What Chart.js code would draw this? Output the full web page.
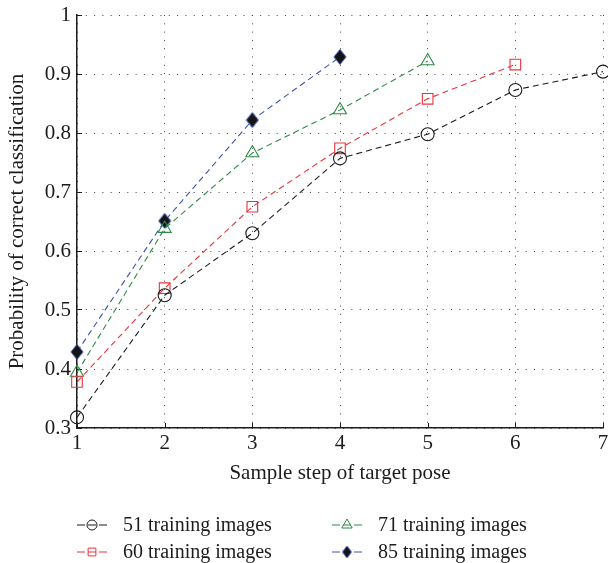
<!DOCTYPE html>
<html>
<head>
<meta charset="utf-8">
<script src="https://cdn.jsdelivr.net/npm/chart.js@4"></script>
<style>
  html, body { margin: 0; padding: 0; background: #fff; }
  #wrap { width: 608px; height: 563px; }
</style>
</head>
<body>
<div id="wrap"><canvas id="chart" width="608" height="563"></canvas></div>
<script>
// values
const steps = ['1', '2', '3', '4', '5', '6', '7'];
const train51 = [0.318, 0.525, 0.630, 0.757, 0.798, 0.873, 0.904];
const train60 = [0.378, 0.537, 0.675, 0.774, 0.858, 0.916];
const train71 = [0.394, 0.638, 0.766, 0.839, 0.922];
const train85 = [0.429, 0.651, 0.822, 0.929];
const seriesNames = ['51 training images', '60 training images', '71 training images', '85 training images'];

const FONT = "'Liberation Serif', 'Times New Roman', serif";
const INK = '#1c1c1c';
const BLUE = '#3b52b2';

// filled diamond with blue edge, like the matlab marker
function makeDiamond(w, h) {
    const c = document.createElement('canvas');
    c.width = w + 2;
    c.height = h + 2;
    const g = c.getContext('2d');
    g.beginPath();
    g.moveTo(c.width / 2, 1);
    g.lineTo(c.width - 1, c.height / 2);
    g.lineTo(c.width / 2, c.height - 1);
    g.lineTo(1, c.height / 2);
    g.closePath();
    g.fillStyle = '#141414';
    g.fill();
    g.strokeStyle = BLUE;
    g.lineWidth = 1;
    g.stroke();
    return c;
}
const diamondBig = makeDiamond(12, 15);
const diamondSmall = makeDiamond(9, 12);

const seriesStyle = (color, pointStyle, radius) => ({
    borderColor: color,
    backgroundColor: 'rgba(0,0,0,0)',
    pointBorderColor: color,
    pointBackgroundColor: 'rgba(0,0,0,0)',
    borderWidth: 1.1,
    borderDash: [6, 4],
    pointStyle: pointStyle,
    pointRadius: radius,
    pointHoverRadius: radius,
    pointBorderWidth: 1.1,
    tension: 0,
    fill: false,
    clip: false,
});

const datasets = [
    { label: seriesNames[0], data: train51, ...seriesStyle('#1b1b1b', 'circle', 6.5), legendSlot: [0, 0], legendStyle: 'circle', legendR: 5 },
    { label: seriesNames[1], data: train60, ...seriesStyle('#e8353b', 'rect', 7.5), legendSlot: [0, 1], legendStyle: 'rect', legendR: 5.5 },
    { label: seriesNames[2], data: train71, ...seriesStyle('#2b8a45', 'triangle', 7.5), legendSlot: [1, 0], legendStyle: 'triangle', legendR: 6 },
    { label: seriesNames[3], data: train85, ...seriesStyle(BLUE, diamondBig, 7), legendSlot: [1, 1], legendStyle: diamondSmall, legendR: 6 },
];

// two-column legend under the axis title
const legendPlugin = {
    id: 'twoColLegend',
    afterDraw(chart) {
        const ctx = chart.ctx;
        const colX = [77, 332];
        const rowY = [525, 552];
        ctx.save();
        chart.data.datasets.forEach((ds) => {
            const x0 = colX[ds.legendSlot[0]];
            const y = rowY[ds.legendSlot[1]];
            const mx = x0 + 15;
            ctx.strokeStyle = ds.borderColor;
            ctx.lineWidth = 1;
            ctx.setLineDash([]);
            ctx.beginPath();
            ctx.moveTo(x0, y); ctx.lineTo(x0 + 8, y);
            ctx.moveTo(x0 + 22, y); ctx.lineTo(x0 + 30, y);
            if (ds.legendStyle !== diamondSmall) {
                ctx.moveTo(mx - 4, y); ctx.lineTo(mx + 4, y);
            }
            ctx.stroke();
            ctx.fillStyle = 'rgba(0,0,0,0)';
            Chart.helpers.drawPoint(ctx, {
                pointStyle: ds.legendStyle,
                radius: ds.legendR,
                rotation: 0,
                borderWidth: 1,
            }, mx, y);
            ctx.fillStyle = INK;
            ctx.font = '20px ' + FONT;
            ctx.textBaseline = 'middle';
            ctx.textAlign = 'left';
            ctx.fillText(ds.label, x0 + 46, y + 1);
        });
        ctx.restore();
    },
};

// matlab style inward ticks on the bottom axis
const xTickPlugin = {
    id: 'xInwardTicks',
    afterDatasetsDraw(chart) {
        const sx = chart.scales.x;
        const ctx = chart.ctx;
        ctx.save();
        ctx.strokeStyle = INK;
        ctx.lineWidth = 1;
        ctx.beginPath();
        sx.ticks.forEach((t, i) => {
            const px = Math.round(sx.getPixelForTick(i)) + 0.5;
            ctx.moveTo(px, sx.top);
            ctx.lineTo(px, sx.top - 5);
        });
        ctx.stroke();
        ctx.restore();
    },
};

const gridBase = { color: '#444', lineWidth: 1 };
const borderCfg = { display: true, color: INK, width: 1.5, dash: [1, 7.3] };

new Chart(document.getElementById('chart'), {
    type: 'line',
    data: { labels: steps, datasets: datasets },
    options: {
        responsive: false,
        animation: false,
        layout: { autoPadding: false, padding: { left: 0, right: 5, top: 15, bottom: 65 } },
        plugins: {
            legend: { display: false },
            tooltip: { enabled: false },
        },
        scales: {
            x: {
                type: 'category',
                offset: false,
                grid: { ...gridBase, drawTicks: true, tickLength: 3, tickColor: 'rgba(0,0,0,0)' },
                border: borderCfg,
                ticks: { color: INK, font: { family: FONT, size: 21 }, padding: 0, maxRotation: 0 },
                title: {
                    display: true,
                    text: 'Sample step of target pose',
                    color: INK,
                    font: { family: FONT, size: 21 },
                    padding: { top: 0, bottom: 12 },
                },
                afterFit(scale) {
                    scale.height = 70;
                    scale.paddingLeft = 0;
                    scale.paddingRight = 0;
                },
            },
            y: {
                min: 0.3,
                max: 1,
                grid: {
                    ...gridBase,
                    drawTicks: true,
                    tickLength: -5,
                    tickColor: INK,
                    tickWidth: 1,
                    tickBorderDash: [],
                },
                border: borderCfg,
                ticks: {
                    stepSize: 0.1,
                    color: INK,
                    font: { family: FONT, size: 21 },
                    padding: 11,
                    callback: (v) => String(Number(v.toFixed(1))),
                },
                title: {
                    display: true,
                    text: 'Probability of correct classification',
                    color: INK,
                    font: { family: FONT, size: 21 },
                    padding: { top: 5, bottom: 0 },
                },
                afterFit(scale) {
                    scale.width = 77;
                    scale.paddingTop = 0;
                    scale.paddingBottom = 0;
                },
            },
        },
    },
    plugins: [legendPlugin, xTickPlugin],
});
</script>
</body>
</html>
